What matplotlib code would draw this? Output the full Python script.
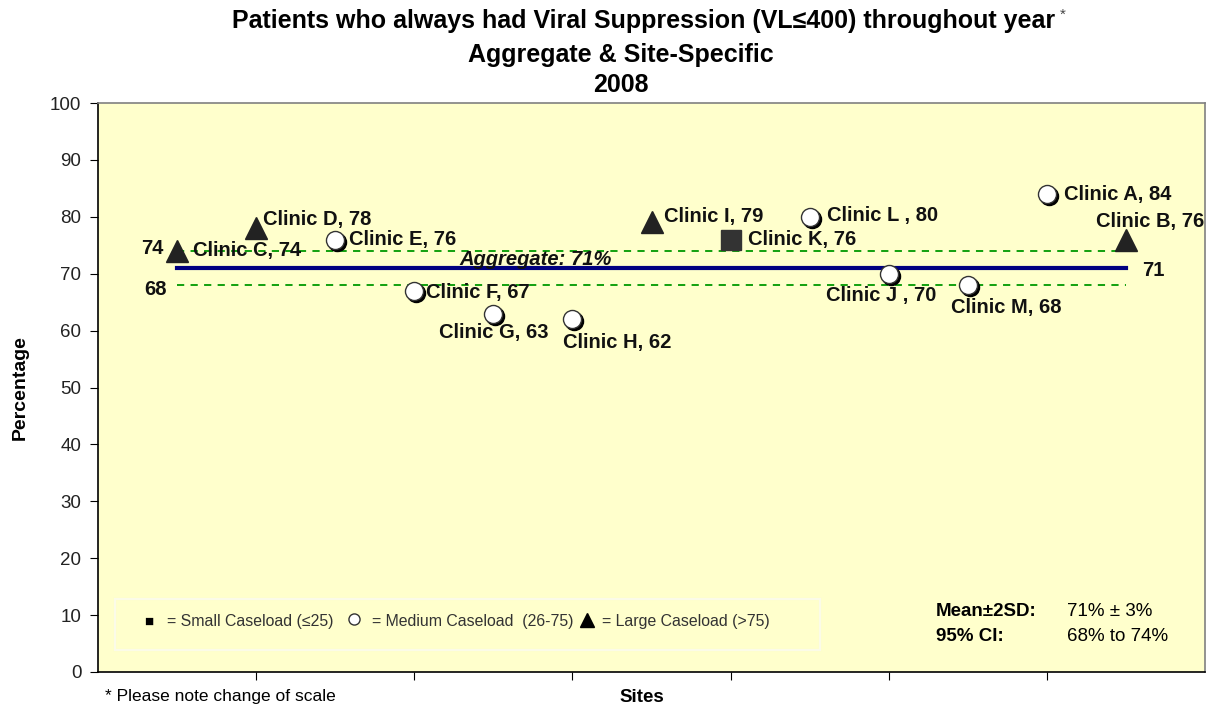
import matplotlib
matplotlib.use("Agg")
import matplotlib.pyplot as plt
import matplotlib.transforms as mtransforms
from matplotlib.patches import Rectangle

plt.rcParams['font.family'] = ['Liberation Sans', 'DejaVu Sans']

# data
clinics = ['Clinic C, 74', 'Clinic D, 78', 'Clinic E, 76', 'Clinic F, 67', 'Clinic G, 63',
           'Clinic H, 62', 'Clinic I, 79', 'Clinic K, 76', 'Clinic L , 80', 'Clinic J , 70',
           'Clinic M, 68', 'Clinic A, 84', 'Clinic B, 76']
site_pos = [0.5, 1.0, 1.5, 2.0, 2.5, 3.0, 3.5, 4.0, 4.5, 5.0, 5.5, 6.0, 6.5]
pct = [74, 78, 76, 67, 63, 62, 79, 76, 80, 70, 68, 84, 76]
caseload = ['large', 'large', 'medium', 'medium', 'medium', 'medium', 'large',
            'small', 'medium', 'medium', 'medium', 'medium', 'large']
aggregate = 71
ci_low, ci_high = 68, 74
yticks = list(range(0, 101, 10))

# label placement (pixels from marker centre)
label_off = [(16, 0, 'left'), (7, 9, 'left'), (14, 0, 'left'), (12, -2, 'left'),
             (0, -19, 'center'), (-9, -23, 'left'), (12, 6, 'left'), (17, 0, 'left'),
             (17, 1, 'left'), (-8, -22, 'center'), (38, -22, 'center'), (17, 0, 'left'),
             (24, 18, 'center')]

fig = plt.figure(figsize=(12.09, 7.07), dpi=100)
ax = fig.add_axes([98/1209, 1 - 672/707, (1205-98)/1209, (672-103)/707])
ax.set_facecolor('#FFFFCC')
ax.set_xlim(0, 7)
ax.set_ylim(0, 100)

for s in ax.spines.values():
    s.set_color('#808080')
    s.set_linewidth(1.2)
ax.spines['left'].set_color('black')
ax.spines['bottom'].set_color('black')

ax.set_yticks(yticks)
ax.set_xticks([1, 2, 3, 4, 5, 6])
ax.set_xticklabels([])
ax.tick_params(axis='y', direction='out', length=6, labelsize=13.5, pad=6, colors='black')
ax.tick_params(axis='x', direction='out', length=6)
for lab in ax.get_yticklabels():
    lab.set_color('#222222')

# aggregate & CI lines
ax.plot([site_pos[0], site_pos[-1]], [ci_high, ci_high], color='#009900', lw=1.3, ls=(0, (4, 3.5)), zorder=2)
ax.plot([site_pos[0], site_pos[-1]], [ci_low, ci_low], color='#009900', lw=1.3, ls=(0, (4, 3.5)), zorder=2)
ax.plot([site_pos[0], site_pos[-1]], [aggregate, aggregate], color='#000080', lw=3, zorder=2)

shadow = mtransforms.offset_copy(ax.transData, fig=fig, x=2, y=-2, units='dots')
for x, y, c in zip(site_pos, pct, caseload):
    if c == 'medium':
        ax.plot(x, y, 'o', ms=13, color='black', transform=shadow, zorder=3)
        ax.plot(x, y, 'o', ms=13, mfc='white', mec='#333333', mew=1, zorder=4)
    elif c == 'large':
        ax.plot(x, y, '^', ms=16, color='#222222', zorder=4)
    else:
        ax.plot(x, y, 's', ms=14, color='#333333', zorder=4)

for x, y, name, (dx, dy, ha) in zip(site_pos, pct, clinics, label_off):
    ax.annotate(name, (x, y), xytext=(dx, dy), textcoords='offset pixels',
                ha=ha, va='center', fontsize=14.5, fontweight='bold', color='#111111', zorder=5)

ax.annotate('Aggregate: 71%', (2.0, ci_high), xytext=(45, -9), textcoords='offset pixels',
            ha='left', va='center', fontsize=14.5, fontweight='bold', style='italic', color='#111111')
ax.annotate(str(ci_high), (site_pos[0], ci_high), xytext=(-25, 2), textcoords='offset pixels',
            ha='center', va='center', fontsize=14.5, fontweight='bold', color='#111111')
ax.annotate(str(ci_low), (site_pos[0], ci_low), xytext=(-22, -4), textcoords='offset pixels',
            ha='center', va='center', fontsize=14.5, fontweight='bold', color='#111111')
ax.annotate(str(aggregate), (site_pos[-1], aggregate), xytext=(27, -2), textcoords='offset pixels',
            ha='center', va='center', fontsize=14.5, fontweight='bold', color='#111111')

# caseload key box
ax.add_patch(Rectangle(((115-98)/158.14, 100*(672-650)/569), (820-115)/158.14,
                       100*(650-599)/569, fill=False, ec='#FBFBE8', lw=1.5, zorder=1))
ax.text(0.046, 0.088, '■', transform=ax.transAxes, fontsize=11, va='center', ha='center', color='black')
ax.text(0.0623, 0.088, '= Small Caseload (≤25)', transform=ax.transAxes, fontsize=11.4,
        va='center', ha='left', color='#333333')
ax.plot([0.231], [0.093], 'o', transform=ax.transAxes, ms=8, mfc='white', mec='#333333', mew=1, clip_on=False)
ax.text(0.2475, 0.088, '= Medium Caseload  (26-75)', transform=ax.transAxes, fontsize=11.4,
        va='center', ha='left', color='#333333')
ax.plot([0.4417], [0.091], '^', transform=ax.transAxes, ms=10, color='black', clip_on=False)
ax.text(0.455, 0.088, '= Large Caseload (>75)', transform=ax.transAxes, fontsize=11.4,
        va='center', ha='left', color='#333333')

# summary stats
ax.text(0.757, 0.107, 'Mean±2SD:', transform=ax.transAxes, fontsize=13.5, fontweight='bold', va='center')
ax.text(0.757, 0.063, '95% CI:', transform=ax.transAxes, fontsize=13.5, fontweight='bold', va='center')
ax.text(0.875, 0.107, '71% ± 3%', transform=ax.transAxes, fontsize=13.5, va='center')
ax.text(0.875, 0.063, '68% to 74%', transform=ax.transAxes, fontsize=13.5, va='center')

# titles and axis labels
fig.text(644/1209, 1 - 21/707, 'Patients who always had Viral Suppression (VL≤400) throughout year',
         ha='center', va='center', fontsize=18, fontweight='bold')
fig.text(1060/1209, 1 - 15/707, '*', ha='left', va='center', fontsize=11, color='#444444')
fig.text(621/1209, 1 - 55/707, 'Aggregate & Site-Specific', ha='center', va='center', fontsize=18, fontweight='bold')
fig.text(621/1209, 1 - 85/707, '2008', ha='center', va='center', fontsize=18, fontweight='bold')
fig.text(20/1209, 1 - 388/707, 'Percentage', rotation=90, ha='center', va='center', fontsize=14, fontweight='bold')
fig.text(642/1209, 1 - 697/707, 'Sites', ha='center', va='center', fontsize=13.5, fontweight='bold')
fig.text(105/1209, 1 - 697/707, '* Please note change of scale', ha='left', va='center', fontsize=12.5)

fig.savefig('out.png', dpi=100, facecolor='white')
